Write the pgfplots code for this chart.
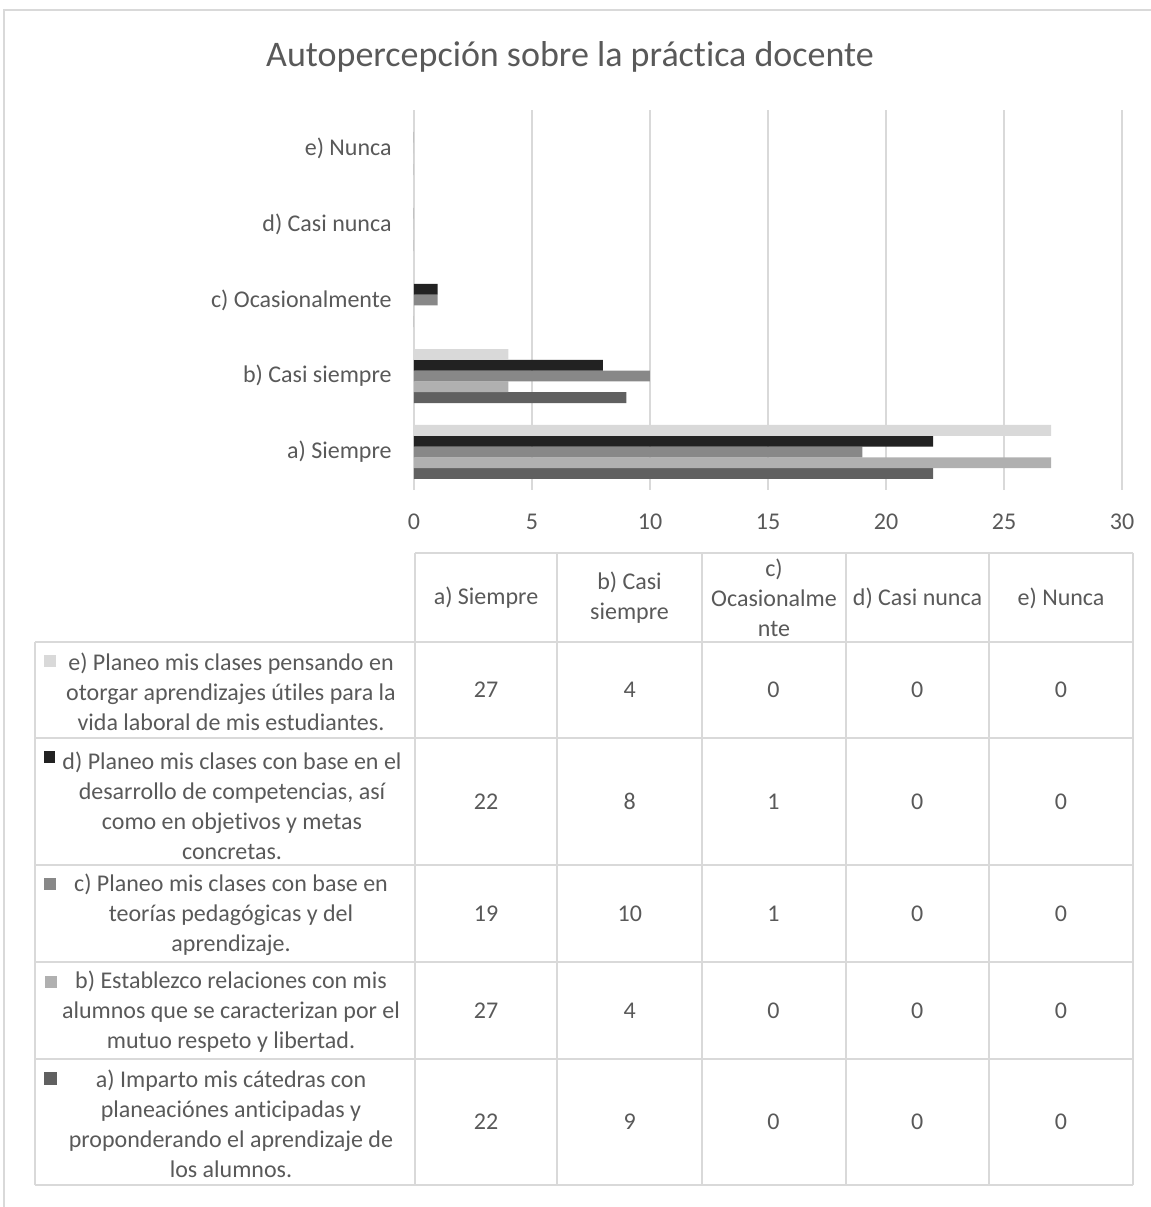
\documentclass[border=0pt]{standalone}
\usepackage{pgfplots}
\pgfplotsset{compat=1.18}
\usepackage{fontspec}
\setmainfont{Carlito}[Ligatures={NoCommon,NoContextual}]
\definecolor{txt}{HTML}{595959}
\definecolor{grd}{HTML}{D9D9D9}
\definecolor{sa}{HTML}{606060}
\definecolor{sb}{HTML}{B0B0B0}
\definecolor{sc}{HTML}{888888}
\definecolor{sd}{HTML}{222222}
\definecolor{se}{HTML}{D9D9D9}
\newcommand{\bodyfont}{\fontsize{12}{15}\selectfont}
\begin{document}
\begin{tikzpicture}[x=0.5pt,y=0.5pt]
\useasboundingbox (0,0) rectangle (1151,1207);
\begin{axis}[at={(207pt,358.5pt)}, anchor=south west, scale only axis,
  width=354pt, height=190pt, xbar, bar width=5.4pt,
  xmin=0, xmax=30, ymin=-0.5, ymax=4.5,
  xtick={0,5,...,30}, ytick={0,1,2,3,4},
  yticklabels={a) Siempre,b) Casi siempre,c) Ocasionalmente,d) Casi nunca,e) Nunca},
  axis line style={draw=none}, major tick length=0pt,
  xmajorgrids, major grid style={grd, line width=0.75pt},
  /pgf/number format/assume math mode=true,
  tick label style={font=\bodyfont, text=txt},
  xticklabel style={anchor=center, yshift=-16pt},
  yticklabel style={anchor=east, inner sep=0pt, xshift=-11pt},
  every axis plot/.append style={draw=none}]
\addplot[fill=sa, bar shift=-10.8pt] coordinates {(22,0) (9,1) (0,2) (0,3) (0,4)};
\addplot[fill=sb, bar shift=-5.4pt] coordinates {(27,0) (4,1) (0,2) (0,3) (0,4)};
\addplot[fill=sc, bar shift=0pt] coordinates {(19,0) (10,1) (1,2) (0,3) (0,4)};
\addplot[fill=sd, bar shift=5.4pt] coordinates {(22,0) (8,1) (1,2) (0,3) (0,4)};
\addplot[fill=se, bar shift=10.8pt] coordinates {(27,0) (4,1) (0,2) (0,3) (0,4)};
\end{axis}
\begin{scope}[shift={(0,1207)}, yscale=-1]
\draw[grd, line width=0.75pt] (4,1207) -- (4,10) -- (1151,10);
\node[txt, font=\fontsize{18}{21}\selectfont] at (570,57) {Autopercepción sobre la práctica docente};
% table grid
\begin{scope}[grd, line width=0.75pt]
\draw (415,553) -- (1133,553);
\foreach \y in {642,738,865,962,1059,1185} \draw (35,\y) -- (1133,\y);
\draw (35,642) -- (35,1185);
\foreach \x in {415,557,702,846,989,1133} \draw (\x,553) -- (\x,1185);
\end{scope}
\begin{scope}[every node/.style={txt, font=\bodyfont, align=center, inner sep=0pt}]
\node at (486,598) {a) Siempre};
\node at (629.5,598) {b) Casi\\siempre};
\node at (774,598) {c)\\Ocasionalme\\nte};
\node at (917.5,598) {d) Casi nunca};
\node at (1061,598) {e) Nunca};
\node at (231,692) {e) Planeo mis clases pensando en\\otorgar aprendizajes útiles para la\\vida laboral de mis estudiantes.};
\node at (232,806) {d) Planeo mis clases con base en el\\desarrollo de competencias, así\\como en objetivos y metas\\concretas.};
\node at (231,915) {c) Planeo mis clases con base en\\teorías pedagógicas y del\\aprendizaje.};
\node at (231,1012) {b) Establezco relaciones con mis\\alumnos que se caracterizan por el\\mutuo respeto y libertad.};
\node at (231,1124) {a) Imparto mis cátedras con\\planeaciónes anticipadas y\\proponderando el aprendizaje de\\los alumnos.};
\foreach \v [count=\i from 0] in {27,4,0,0,0} \node at (486+143.75*\i,690) {\v};
\foreach \v [count=\i from 0] in {22,8,1,0,0} \node at (486+143.75*\i,801.5) {\v};
\foreach \v [count=\i from 0] in {19,10,1,0,0} \node at (486+143.75*\i,913.5) {\v};
\foreach \v [count=\i from 0] in {27,4,0,0,0} \node at (486+143.75*\i,1010.5) {\v};
\foreach \v [count=\i from 0] in {22,9,0,0,0} \node at (486+143.75*\i,1122) {\v};
\end{scope}
\fill[se] (44,655) rectangle (56,667);
\fill[sd] (44,751) rectangle (55,763);
\fill[sc] (44,878) rectangle (56,890);
\fill[sb] (45,976) rectangle (57,988);
\fill[sa] (44,1072) rectangle (57,1085);
\end{scope}
\end{tikzpicture}
\end{document}
